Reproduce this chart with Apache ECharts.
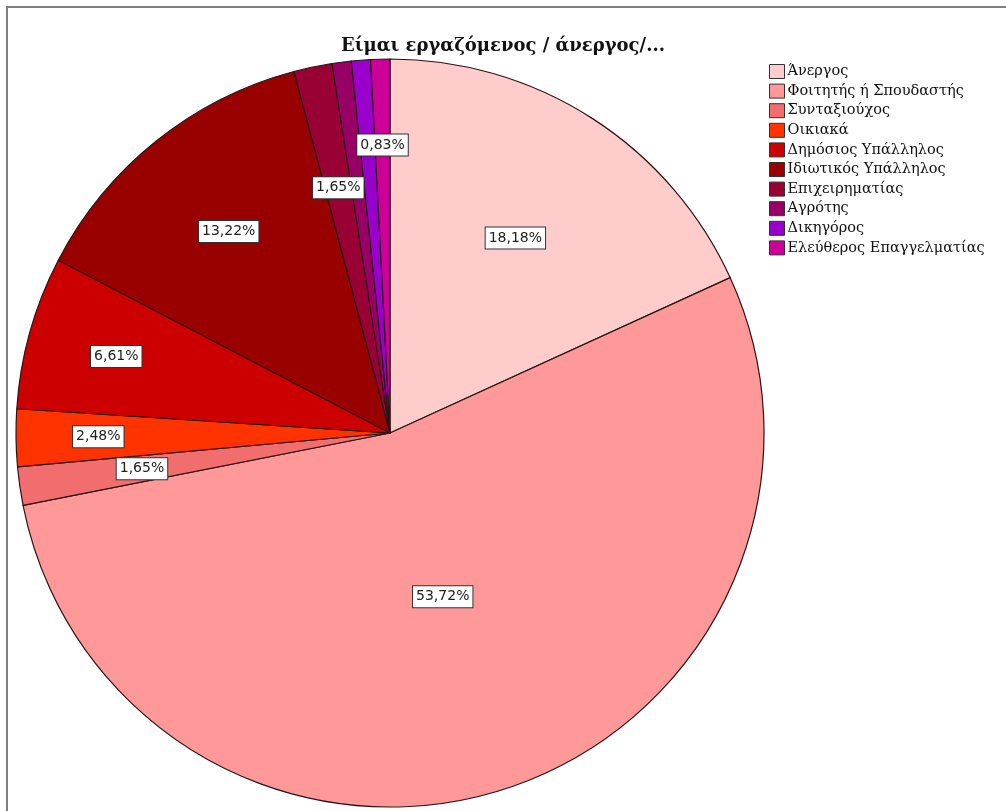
<!DOCTYPE html>
<html>
<head>
<meta charset="utf-8">
<script src="https://cdn.jsdelivr.net/npm/echarts@6/dist/echarts.min.js"></script>
<style>
html,body{margin:0;padding:0;background:#fff;}
#chart{width:1006px;height:811px;}
</style>
</head>
<body>
<div id="chart"></div>
<script>
var categories = ['Άνεργος','Φοιτητής ή Σπουδαστής','Συνταξιούχος','Οικιακά','Δημόσιος Υπάλληλος','Ιδιωτικός Υπάλληλος','Επιχειρηματίας','Αγρότης','Δικηγόρος','Ελεύθερος Επαγγελματίας'];
var counts = [22, 65, 2, 3, 8, 16, 2, 1, 1, 1];
var showLabel = [true, true, true, true, true, true, true, false, false, true];
var colors = ['#FFCCCC','#FF9999','#F26D6D','#FF3300','#CC0000','#990000','#990033','#990066','#9900CC','#CC0099'];
var labelRadiusFrac = [0.62, 0.46, 0.67, 0.78, 0.76, 0.69, 0.67, 0.7, 0.7, 0.77];

var total = counts.reduce(function(a,b){return a+b;},0);
var cx = 390, cy = 433, R = 374;
var midAngles = [];
(function(){
  var acc = 0;
  for (var i = 0; i < counts.length; i++) {
    midAngles.push((acc + counts[i] / 2) / total * 2 * Math.PI);
    acc += counts[i];
  }
})();

var chart = echarts.init(document.getElementById('chart'));
chart.setOption({
  backgroundColor: '#fff',
  animation: false,
  title: {
    text: 'Είμαι εργαζόμενος / άνεργος/...',
    left: 'center',
    top: 32,
    textStyle: { fontFamily: 'DejaVu Serif', fontWeight: 'bold', fontSize: 18, color: '#111' }
  },
  legend: {
    orient: 'vertical',
    left: 769,
    top: 64,
    padding: 0,
    itemWidth: 15,
    itemHeight: 14,
    itemGap: 4.6,
    icon: 'rect',
    itemStyle: { borderColor: '#333', borderWidth: 1 },
    textStyle: { fontFamily: 'DejaVu Serif', fontSize: 14.5, lineHeight: 14, color: '#111', padding: [0,0,0,-2] },
    data: categories
  },
  graphic: [{
    type: 'rect',
    shape: { x: 7, y: 7, width: 1030, height: 840 },
    style: { fill: 'none', stroke: '#808080', lineWidth: 2 },
    silent: true
  }],
  series: [{
    type: 'pie',
    center: [cx, cy],
    radius: R,
    startAngle: 90,
    clockwise: true,
    avoidLabelOverlap: false,
    color: colors,
    itemStyle: { borderColor: '#2b1414', borderWidth: 1.2 },
    emphasis: { disabled: true },
    label: {
      position: 'inside',
      formatter: function(p){ return (p.value / total * 100).toFixed(2).replace('.', ',') + '%'; },
      fontFamily: 'DejaVu Sans',
      fontSize: 14,
      color: '#222',
      backgroundColor: '#fff',
      borderColor: '#333',
      borderWidth: 1,
      padding: [4, 3, 3, 3]
    },
    labelLine: { show: false },
    labelLayout: function(params) {
      var i = params.dataIndex;
      var a = midAngles[i];
      var r = R * labelRadiusFrac[i];
      return { x: cx + r * Math.sin(a), y: cy - r * Math.cos(a), align: 'center', verticalAlign: 'middle' };
    },
    data: categories.map(function(c, i){
      return { name: c, value: counts[i], label: { show: showLabel[i] } };
    })
  }]
});
</script>
</body>
</html>
